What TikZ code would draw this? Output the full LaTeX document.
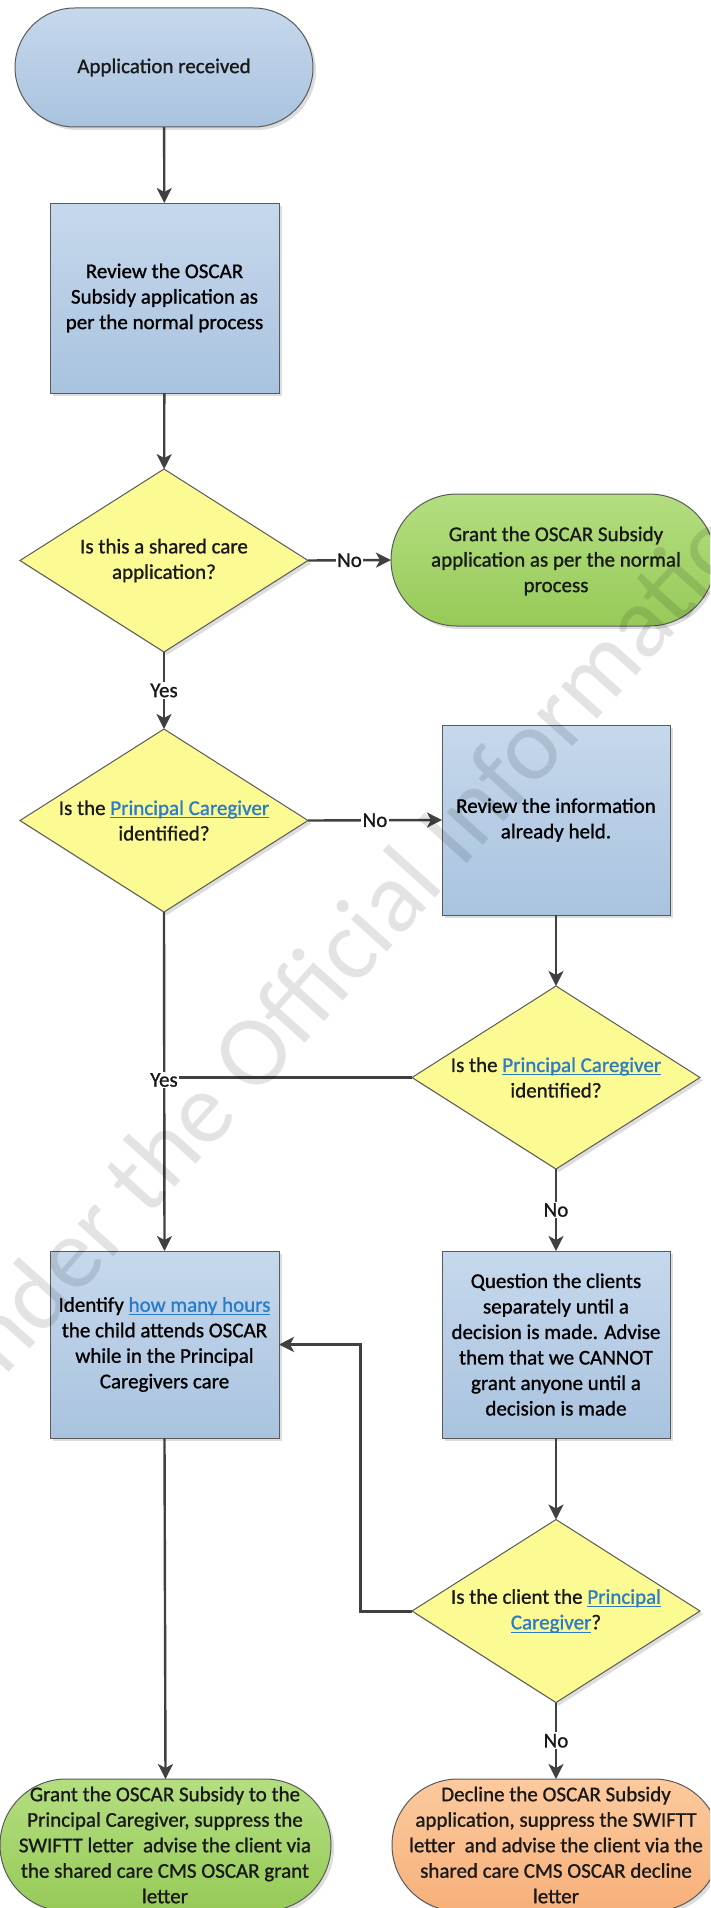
\documentclass[tikz,border=0pt]{standalone}
\usepackage{fontspec}
\setmainfont{Carlito}[FakeBold=1.0]
\newfontfamily\wmfont{Carlito}
\usetikzlibrary{shapes.geometric,shapes.misc,arrows.meta,shadows}
\definecolor{linec}{HTML}{404040}
\definecolor{bordc}{HTML}{5A5A5A}
\definecolor{bluetop}{HTML}{C6D8EC}
\definecolor{bluebot}{HTML}{A9C3DF}
\definecolor{greentop}{HTML}{B4DE80}
\definecolor{greenbot}{HTML}{96CA58}
\definecolor{orangetop}{HTML}{FCCA9E}
\definecolor{orangebot}{HTML}{F7B07A}
\definecolor{yel}{HTML}{FCFA92}
\definecolor{linkblue}{HTML}{2A7CC7}
\newcommand\lnk[1]{{\color{linkblue}\setbox0\hbox{#1}\rlap{\rule[-3.5pt]{\wd0}{1.1pt}}\box0}}
\begin{document}
\begin{tikzpicture}[x=1pt,y=-1pt,
  every node/.style={font=\fontsize{21}{25.5}\selectfont, inner sep=0pt, outer sep=0pt},
  shd/.style={drop shadow={shadow xshift=3pt,shadow yshift=-3pt,opacity=0.22,fill=black!60}},
  procbox/.style={rectangle, draw=bordc, line width=1pt, top color=bluetop, bottom color=bluebot, minimum width=229pt, align=center, shd},
  termshape/.style={rounded rectangle, draw=bordc, line width=1pt, shd},
  decision/.style={diamond, draw=bordc, line width=1pt, fill=yel, minimum width=288pt, minimum height=183pt, shd},
  txt/.style={align=center, text=black!90},
  conn/.style={draw=linec, line width=2.4pt},
  arr/.style={conn, -{Stealth[length=15pt,width=15pt,inset=4pt]}},
  lab/.style={fill=white, inner sep=1.5pt, txt},
  wm/.style={font=\wmfont\fontsize{101}{111}\selectfont, text=black, text opacity=0.11, inner sep=0pt, rotate=48}
]
\useasboundingbox (0,0) rectangle (710,1908);
\fill[white] (0,0) rectangle (710,1908);
\begin{scope}
\clip (0,0) rectangle (710,1908);
% shapes
\node[termshape, top color=bluetop, bottom color=bluebot, minimum width=298pt, minimum height=119pt] (t1) at (164,67.5) {};
\node[txt] (t1t) at (t1.center) {Application received};

\node[procbox, minimum height=190pt] (b1) at (164.5,298) {Review the OSCAR\\Subsidy application as\\per the normal process};

\node[decision] (d1) at (164,560.5) {};
\node[txt] (d1t) at (d1.center) {Is this a shared care\\application?};

\node[termshape, top color=greentop, bottom color=greenbot, minimum width=324pt, minimum height=132pt] (t2) at (553,560) {};
\node[txt] (t2t) at (556,561) {Grant the OSCAR Subsidy\\application as per the normal\\process};

\node[decision] (d2) at (164,820.5) {};
\node[txt] (d2t) at (d2.center) {Is the \lnk{Principal Caregiver}\\identified?};

\node[procbox, minimum width=228pt, minimum height=190pt] (b2) at (556,820) {Review the information\\already held.};

\node[decision] (d3) at (556,1077.5) {};
\node[txt] (d3t) at (d3.center) {Is the \lnk{Principal Caregiver}\\identified?};

\node[procbox, minimum height=187pt] (b3) at (164.5,1344.5) {Identify \lnk{how many hours}\\the child attends OSCAR\\while in the Principal\\Caregivers care};

\node[procbox, minimum width=228pt, minimum height=187pt] (b4) at (556,1344.5) {Question the clients\\separately until a\\decision is made. Advise\\them that we CANNOT\\grant anyone until a\\decision is made};

\node[decision] (d4) at (556,1611) {};
\node[txt] (d4t) at (d4.center) {Is the client the \lnk{Principal}\\\lnk{Caregiver}?};

\node[termshape, top color=greentop, bottom color=greenbot, minimum width=331pt, minimum height=132pt] (t3) at (165.5,1845) {};
\node[txt] (t3t) at (165,1845) {Grant the OSCAR Subsidy to the\\Principal Caregiver, suppress the\\SWIFTT letter~~advise the client via\\the shared care CMS OSCAR grant\\letter};

\node[termshape, top color=orangetop, bottom color=orangebot, minimum width=328pt, minimum height=132pt] (t4) at (556,1845) {};
\node[txt] (t4t) at (556,1845) {Decline the OSCAR Subsidy\\application, suppress the SWIFTT\\letter~~and advise the client via the\\shared care CMS OSCAR decline\\letter};

% connectors
\draw[arr] (t1) -- (b1);
\draw[arr] (b1) -- (d1);
\draw[arr] (d1.east) -- node[lab] (no1) {No} (t2.west);
\draw[arr] (d1.south) -- node[lab] (yes1) {Yes} (d2.north);
\draw[arr] (d2.east) -- node[lab] (no2) {No} (b2.west);
\draw[arr] (b2.south) -- (d3.north);
\draw[arr] (d2.south) -- (b3.north);
\node[lab] (yes2) at (164,1080) {Yes};
\draw[conn, line width=3pt] (d3.west) -- (d3.west -| yes2.east);
\draw[arr] (d3.south) -- node[lab] (no3) {No} (b4.north);
\draw[arr] (b4.south) -- (d4.north);
\coordinate (lp) at (360,1611);
\draw[arr, line width=3pt] (d4.west) -- (lp) |- (b3.east);
\draw[arr] (b3.south) -- (t3.north);
\draw[arr] (d4.south) -- node[lab] (no4) {No} (t4.north);

% watermark
\coordinate (wmp) at (40,1338);
\node[wm, anchor=base east] (wm1) at (wmp) {Released un};
\node[wm, anchor=base west] (wm2) at (wmp) {der the Official Information Act};
\end{scope}
\end{tikzpicture}
\end{document}
